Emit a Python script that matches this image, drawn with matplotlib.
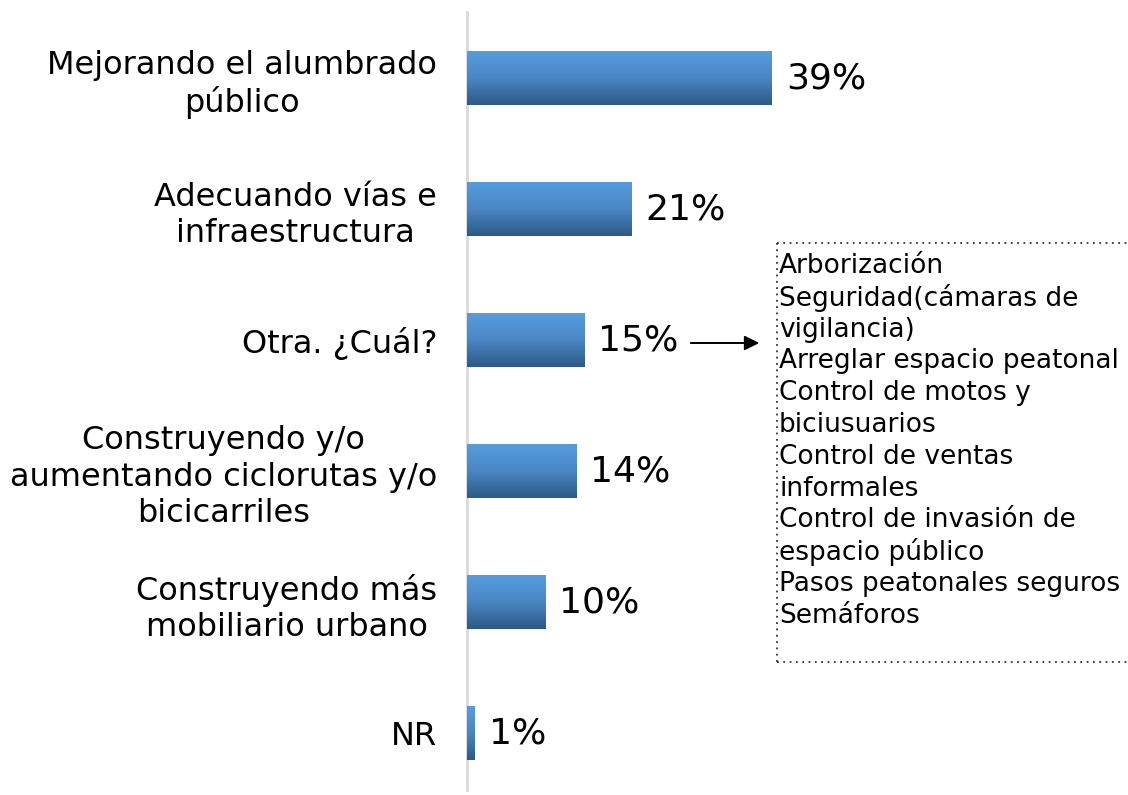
import matplotlib
matplotlib.use("Agg")
import matplotlib.pyplot as plt
import numpy as np
from matplotlib.colors import LinearSegmentedColormap

categories = [
    "Mejorando el alumbrado\npúblico",
    "Adecuando vías e\ninfraestructura",
    "Otra. ¿Cuál?",
    "Construyendo y/o\naumentando ciclorutas y/o\nbicicarriles",
    "Construyendo más\nmobiliario urbano",
    "NR",
]
values = [39, 21, 15, 14, 10, 1]
value_labels = ["39%", "21%", "15%", "14%", "10%", "1%"]
other_answers = [
    "Arborización",
    "Seguridad(cámaras de",
    "vigilancia)",
    "Arreglar espacio peatonal",
    "Control de motos y",
    "biciusuarios",
    "Control de ventas",
    "informales",
    "Control de invasión de",
    "espacio público",
    "Pasos peatonales seguros",
    "Semáforos",
]

FONT = "DejaVu Sans"
W, H = 1128, 795
fig = plt.figure(figsize=(W / 100, H / 100), dpi=100)
fig.patch.set_facecolor("white")

ax_left, ax_right = 467 / W, 858 / W
ax_top, ax_bot = 1 - 12 / H, 1 - 790 / H
ax = fig.add_axes([ax_left, ax_bot, ax_right - ax_left, ax_top - ax_bot])

ypos = np.arange(len(categories))
bars = ax.barh(ypos, values, height=0.405, color="#3f77b3", zorder=2)

cmap = LinearSegmentedColormap.from_list("g", ["#569ddf", "#4a86c4", "#2d5985"])
grad = np.linspace(0, 1, 256).reshape(-1, 1)
for b in bars:
    x0, y0 = b.get_x(), b.get_y()
    w, h = b.get_width(), b.get_height()
    im = ax.imshow(grad, cmap=cmap, aspect="auto",
                   extent=[x0, x0 + w, y0 + h, y0], origin="upper", zorder=3)
    im.set_clip_path(b)

ax.set_xlim(0, 50)
ax.set_ylim(5.435, -0.504)
ax.set_yticks(ypos)
ax.set_yticklabels(categories, fontsize=23, family=FONT, multialignment="center",
                   linespacing=1.22)
ax.tick_params(axis="y", length=0, pad=21.5)
ax.set_xticks([])
for s in ["top", "right", "bottom"]:
    ax.spines[s].set_visible(False)
ax.spines["left"].set_color("#d9d9d9")
ax.spines["left"].set_linewidth(2)

for yv, v, lab in zip(ypos, values, value_labels):
    ax.annotate(lab, xy=(v, yv), xytext=(10, 0), textcoords="offset points",
                va="center", ha="left", fontsize=26, family=FONT)

def fx(px):
    return px / W

def fy(py):
    return 1 - py / H

fig.patches.append(matplotlib.patches.FancyArrowPatch(
    (fx(688), fy(343)), (fx(762), fy(343)), transform=fig.transFigure,
    arrowstyle="-|>", mutation_scale=22, color="black", lw=1.4))

line_kw = dict(transform=fig.transFigure, color="#333333", lw=1.3, ls=(0, (1, 2.5)))
fig.add_artist(plt.Line2D([fx(777), fx(1128)], [fy(243), fy(243)], **line_kw))
fig.add_artist(plt.Line2D([fx(777), fx(1128)], [fy(662), fy(662)], **line_kw))
fig.add_artist(plt.Line2D([fx(777), fx(777)], [fy(243), fy(662)], **line_kw))

for i, t in enumerate(other_answers):
    fig.text(fx(779), fy(266 + i * 31.8), t, fontsize=19, family=FONT,
             ha="left", va="center")

fig.savefig("out.png", dpi=100, facecolor="white")
